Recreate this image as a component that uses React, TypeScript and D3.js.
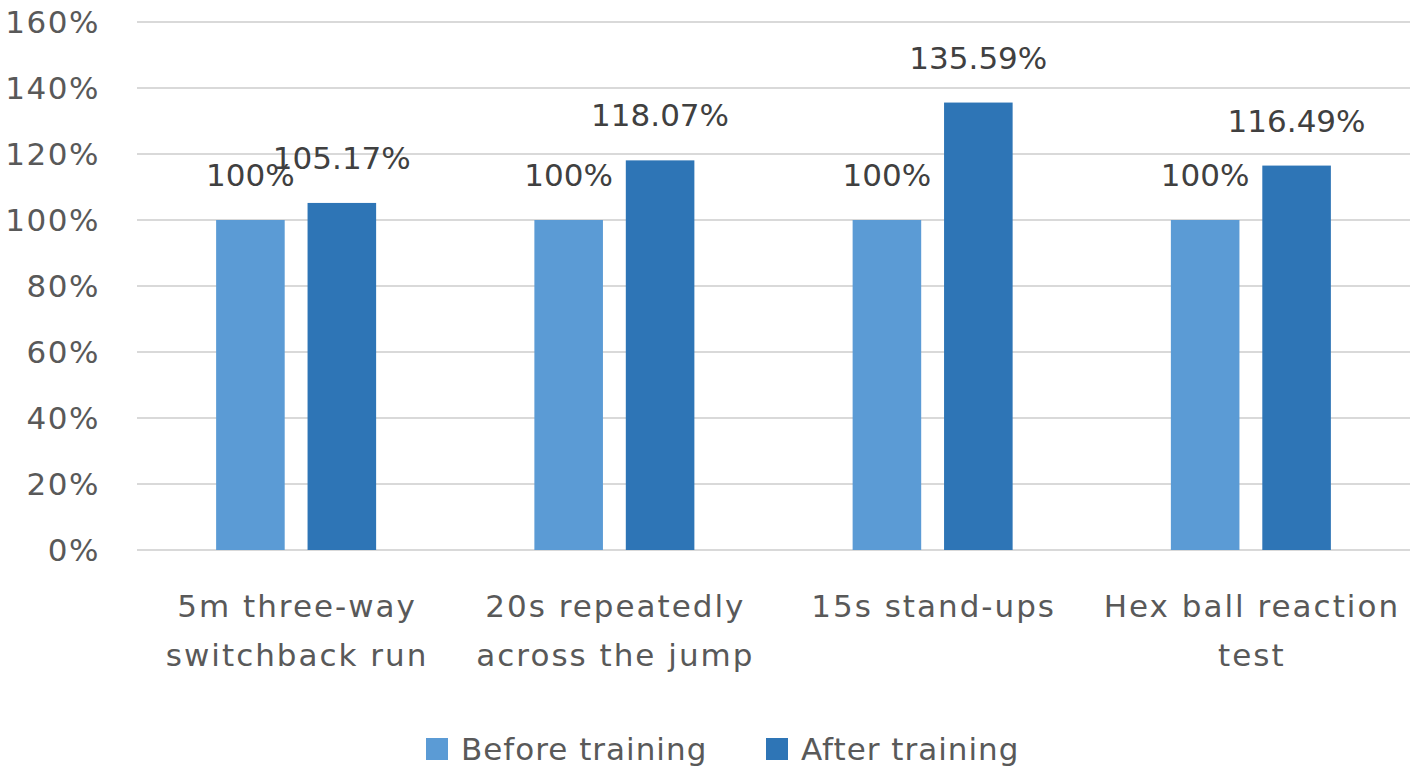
import React from 'react';
import * as d3 from 'd3';

const width = 1418;
const height = 776;
const margin = { top: 22, right: 8, bottom: 226, left: 137 };

const categories = [
  ['5m three-way', 'switchback run'],
  ['20s repeatedly', 'across the jump'],
  ['15s stand-ups'],
  ['Hex ball reaction', 'test'],
];
const seriesNames = ['Before training', 'After training'];
const beforeValues = [100, 100, 100, 100];
const afterValues = [105.17, 118.07, 135.59, 116.49];
const beforeLabels = ['100%', '100%', '100%', '100%'];
const afterLabels = ['105.17%', '118.07%', '135.59%', '116.49%'];
const yTicks = [0, 20, 40, 60, 80, 100, 120, 140, 160];
const colors = ['#5b9bd5', '#2e75b6'];

const font = 'DejaVu Sans, sans-serif';

function App() {
  const x = d3
    .scaleBand<number>()
    .domain(d3.range(categories.length))
    .range([margin.left, width - margin.right]);
  const inner = d3.scaleBand<number>().domain([0, 1]).range([-80, 80]).paddingInner(0.25);
  const y = d3
    .scaleLinear()
    .domain([0, 160])
    .range([height - margin.bottom, margin.top]);

  const series = [
    { name: seriesNames[0], values: beforeValues, labels: beforeLabels },
    { name: seriesNames[1], values: afterValues, labels: afterLabels },
  ];

  // legend item starts
  const legendX = [426, 766];

  return (
    <div style={{ position: 'absolute', left: 0, top: 0 }}>
      <svg width={width} height={height} style={{ display: 'block', background: '#fff' }}>
        {/* gridlines + y tick labels */}
        {yTicks.map((t) => (
          <g key={t}>
            <line
              x1={margin.left}
              x2={width - margin.right}
              y1={y(t)}
              y2={y(t)}
              stroke="#d9d9d9"
              strokeWidth={2}
            />
            <text
              x={100}
              y={y(t)}
              dy="0.36em"
              textAnchor="end"
              fontFamily={font}
              fontSize={31}
              letterSpacing={1.5}
              fill="#595959"
            >
              {t}%
            </text>
          </g>
        ))}

        {/* bars */}
        {categories.map((c, i) => {
          const cx = (x(i) as number) + x.bandwidth() / 2;
          return (
            <g key={i}>
              {series.map((s, j) => {
                const bx = cx + (inner(j) as number);
                const top = y(s.values[i]);
                return (
                  <g key={j}>
                    <rect
                      x={bx}
                      y={top}
                      width={inner.bandwidth()}
                      height={y(0) - top}
                      fill={colors[j]}
                    />
                    <text
                      x={bx + inner.bandwidth() / 2}
                      y={top - 34}
                      textAnchor="middle"
                      fontFamily={font}
                      fontSize={31}
                      fill="#404040"
                    >
                      {s.labels[i]}
                    </text>
                  </g>
                );
              })}
              {c.map((line, k) => (
                <text
                  key={k}
                  x={cx + 1}
                  y={617 + k * 49}
                  textAnchor="middle"
                  fontFamily={font}
                  fontSize={31}
                  letterSpacing={2}
                  fill="#595959"
                >
                  {line}
                </text>
              ))}
            </g>
          );
        })}

        {/* legend */}
        {seriesNames.map((name, j) => (
          <g key={name} transform={`translate(${legendX[j]},0)`}>
            <rect x={0} y={738} width={22} height={22} fill={colors[j]} />
            <text x={35} y={760} fontFamily={font} fontSize={31} letterSpacing={1} fill="#595959">
              {name}
            </text>
          </g>
        ))}
      </svg>
    </div>
  );
}

export default App;
